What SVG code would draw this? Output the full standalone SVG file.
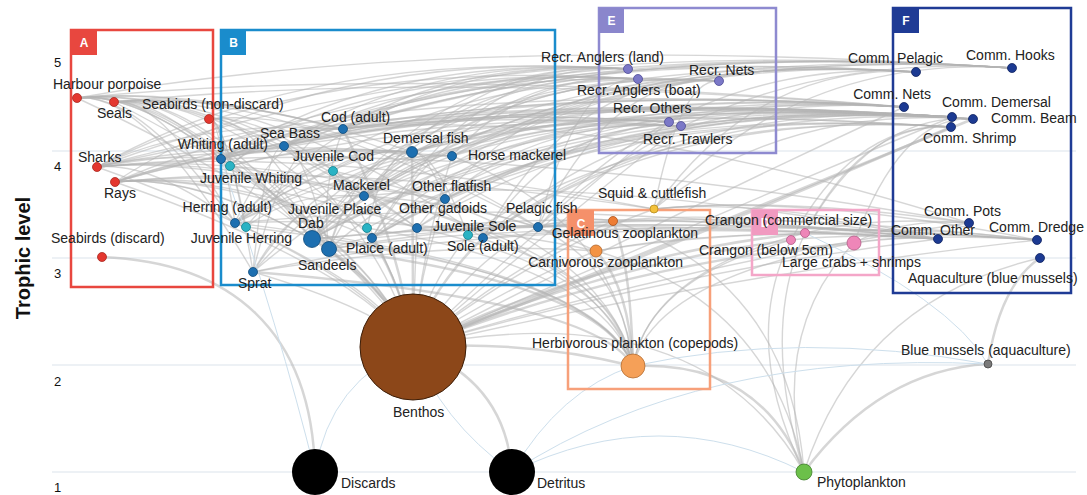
<svg xmlns="http://www.w3.org/2000/svg" width="1087" height="495" viewBox="0 0 1087 495">
<style>
text{font-family:"Liberation Sans",Arial,sans-serif;font-size:14px;fill:#222}
.e{fill:none;stroke:#b4b4b4;stroke-opacity:.55;stroke-width:1.4}
.w{stroke-width:2.5}
.lb{fill:none;stroke:#cddfec;stroke-width:1}
.grid{stroke:#e7edf2;stroke-width:1.3}
.box{fill:none;stroke-width:2.5}
.tab{font-size:12px;font-weight:bold;fill:#fff;text-anchor:middle}
.tick{font-size:13px;fill:#111}
.end{text-anchor:end}
.nA{fill:#e4372f;stroke:#a82820;stroke-width:.8}
.nB{fill:#1d6fb0;stroke:#0f4a7a;stroke-width:.8}
.nJ{fill:#2ab3c4;stroke:#15808d;stroke-width:.8}
.nD{fill:#ee86b8;stroke:#b35b86;stroke-width:.8}
.nE{fill:#7b78c7;stroke:#4d4a94;stroke-width:.8}
.nF{fill:#1c3a92;stroke:#0f2260;stroke-width:.8}
</style>
<rect width="1087" height="495" fill="#fff"/>
<g id="grid">
<line class="grid" x1="52" y1="151" x2="1076" y2="151"/>
<line class="grid" x1="52" y1="258" x2="1076" y2="258"/>
<line class="grid" x1="52" y1="365" x2="1076" y2="365"/>
<line class="grid" x1="52" y1="472" x2="1076" y2="472"/>
<text class="tick" x="54" y="67">5</text>
<text class="tick" x="54" y="171">4</text>
<text class="tick" x="54" y="278">3</text>
<text class="tick" x="54" y="386">2</text>
<text class="tick" x="54" y="492">1</text>
<text transform="translate(30,258) rotate(-90)" text-anchor="middle" style="font-size:20px;font-weight:bold;fill:#111">Trophic level</text>
</g>
<g id="connectors">
<path class="e" d="M77,98 Q451,31 1012,68"/>
<path class="e" d="M97,167 Q463,31 1012,68"/>
<path class="e" d="M343,129 Q611,41 1012,68"/>
<path class="e" d="M412,152 Q652,44 1012,68"/>
<path class="e" d="M452,156 Q676,46 1012,68"/>
<path class="e" d="M364,196 Q623,42 1012,68"/>
<path class="e" d="M284,146 Q575,39 1012,68"/>
<path class="e" d="M221,159 Q537,36 1012,68"/>
<path class="e" d="M654,209 Q797,54 1012,68"/>
<path class="e" d="M538,227 Q728,49 1012,68"/>
<path class="e" d="M115,182 Q474,32 1012,68"/>
<path class="e" d="M235,223 Q507,45 916,72"/>
<path class="e" d="M364,196 Q585,50 916,72"/>
<path class="e" d="M452,156 Q638,53 916,72"/>
<path class="e" d="M538,227 Q689,57 916,72"/>
<path class="e" d="M253,272 Q518,45 916,72"/>
<path class="e" d="M329,249 Q564,49 916,72"/>
<path class="e" d="M343,129 Q572,49 916,72"/>
<path class="e" d="M654,209 Q759,62 916,72"/>
<path class="e" d="M221,159 Q499,44 916,72"/>
<path class="e" d="M343,129 Q567,85 904,107"/>
<path class="e" d="M284,146 Q532,82 904,107"/>
<path class="e" d="M412,152 Q609,87 904,107"/>
<path class="e" d="M483,238 Q651,90 904,107"/>
<path class="e" d="M372,238 Q585,86 904,107"/>
<path class="e" d="M235,223 Q503,80 904,107"/>
<path class="e" d="M77,98 Q408,65 904,107"/>
<path class="e" d="M114,102 Q430,70 904,107"/>
<path class="e" d="M97,167 Q420,75 904,107"/>
<path class="e" d="M115,182 Q431,76 904,107"/>
<path class="e" d="M417,228 Q612,88 904,107"/>
<path class="e" d="M312,239 Q549,83 904,107"/>
<path class="e" d="M343,129 Q587,93 952,117"/>
<path class="e" d="M221,159 Q513,88 952,117"/>
<path class="e" d="M412,152 Q628,95 952,117"/>
<path class="e" d="M445,199 Q648,97 952,117"/>
<path class="e" d="M417,228 Q631,96 952,117"/>
<path class="e" d="M372,238 Q604,94 952,117"/>
<path class="e" d="M312,239 Q568,91 952,117"/>
<path class="e" d="M483,238 Q671,98 952,117"/>
<path class="e" d="M235,223 Q522,88 952,117"/>
<path class="e" d="M364,196 Q599,93 952,117"/>
<path class="e" d="M452,156 Q652,97 952,117"/>
<path class="e" d="M97,167 Q439,83 952,117"/>
<path class="e" d="M115,182 Q450,84 952,117"/>
<path class="e" d="M284,146 Q551,90 952,117"/>
<path class="e" d="M372,238 Q612,95 973,119"/>
<path class="e" d="M483,238 Q679,99 973,119"/>
<path class="e" d="M312,239 Q576,93 973,119"/>
<path class="e" d="M445,199 Q656,98 973,119"/>
<path class="e" d="M805,233 Q872,112 973,119"/>
<path class="e" d="M854,243 Q902,114 973,119"/>
<path class="e" d="M115,182 Q458,85 973,119"/>
<path class="e" d="M412,152 Q636,97 973,119"/>
<path class="e" d="M343,129 Q595,94 973,119"/>
<path class="e" d="M654,209 Q782,106 973,119"/>
<path class="e" d="M221,159 Q522,89 973,119"/>
<path class="e" d="M805,233 Q863,121 951,127"/>
<path class="e" d="M791,240 Q855,121 951,127"/>
<path class="e" d="M312,239 Q568,101 951,127"/>
<path class="e" d="M372,238 Q604,104 951,127"/>
<path class="e" d="M221,159 Q513,98 951,127"/>
<path class="e" d="M230,166 Q518,98 951,127"/>
<path class="e" d="M367,228 Q601,104 951,127"/>
<path class="e" d="M483,238 Q670,108 951,127"/>
<path class="e" d="M468,235 Q661,108 951,127"/>
<path class="e" d="M343,129 Q457,58 628,69"/>
<path class="e" d="M284,146 Q422,55 628,69"/>
<path class="e" d="M364,196 Q470,58 628,69"/>
<path class="e" d="M221,159 Q384,53 628,69"/>
<path class="e" d="M312,239 Q438,56 628,69"/>
<path class="e" d="M372,238 Q474,59 628,69"/>
<path class="e" d="M97,167 Q309,48 628,69"/>
<path class="e" d="M115,182 Q320,48 628,69"/>
<path class="e" d="M235,223 Q392,53 628,69"/>
<path class="e" d="M343,129 Q461,67 638,79"/>
<path class="e" d="M284,146 Q426,65 638,79"/>
<path class="e" d="M364,196 Q474,68 638,79"/>
<path class="e" d="M221,159 Q388,62 638,79"/>
<path class="e" d="M312,239 Q442,66 638,79"/>
<path class="e" d="M372,238 Q478,68 638,79"/>
<path class="e" d="M97,167 Q313,57 638,79"/>
<path class="e" d="M538,227 Q578,75 638,79"/>
<path class="e" d="M452,156 Q526,72 638,79"/>
<path class="e" d="M235,223 Q429,62 719,81"/>
<path class="e" d="M253,272 Q439,62 719,81"/>
<path class="e" d="M364,196 Q506,67 719,81"/>
<path class="e" d="M538,227 Q610,74 719,81"/>
<path class="e" d="M284,146 Q458,64 719,81"/>
<path class="e" d="M417,228 Q538,69 719,81"/>
<path class="e" d="M312,239 Q475,65 719,81"/>
<path class="e" d="M483,238 Q577,72 719,81"/>
<path class="e" d="M654,209 Q680,78 719,81"/>
<path class="e" d="M343,129 Q473,109 669,122"/>
<path class="e" d="M364,196 Q486,110 669,122"/>
<path class="e" d="M312,239 Q455,108 669,122"/>
<path class="e" d="M221,159 Q400,104 669,122"/>
<path class="e" d="M235,223 Q409,105 669,122"/>
<path class="e" d="M312,239 Q460,111 681,126"/>
<path class="e" d="M372,238 Q496,114 681,126"/>
<path class="e" d="M483,238 Q562,118 681,126"/>
<path class="e" d="M343,129 Q478,112 681,126"/>
<path class="e" d="M445,199 Q539,117 681,126"/>
<path class="e" d="M412,152 Q520,115 681,126"/>
<path class="e" d="M805,233 Q871,216 969,223"/>
<path class="e" d="M854,243 Q900,218 969,223"/>
<path class="e" d="M654,209 Q780,196 969,223"/>
<path class="e" d="M343,129 Q593,104 969,223"/>
<path class="e" d="M97,167 Q446,132 969,223"/>
<path class="e" d="M538,227 Q698,211 938,239"/>
<path class="e" d="M654,209 Q768,198 938,239"/>
<path class="e" d="M613,221 Q743,208 938,239"/>
<path class="e" d="M596,251 Q733,225 938,239"/>
<path class="e" d="M329,249 Q573,215 938,239"/>
<path class="e" d="M312,239 Q562,214 938,239"/>
<path class="e" d="M791,240 Q850,233 938,239"/>
<path class="e" d="M854,243 Q888,236 938,239"/>
<path class="e" d="M235,223 Q516,195 938,239"/>
<path class="e" d="M253,272 Q527,212 938,239"/>
<path class="e" d="M364,196 Q594,173 938,239"/>
<path class="e" d="M417,228 Q625,207 938,239"/>
<path class="e" d="M854,243 Q927,233 1037,240"/>
<path class="e" d="M805,233 Q898,224 1037,240"/>
<path class="e" d="M538,227 Q738,207 1037,240"/>
<path class="e" d="M483,238 Q705,216 1037,240"/>
<path class="e" d="M372,238 Q638,211 1037,240"/>
<path class="e" d="M312,239 Q602,210 1037,240"/>
<path class="e" d="M654,209 Q807,194 1037,240"/>
<path class="e" d="M596,251 Q772,222 1037,240"/>
<path class="e" d="M77,98 Q135,92 221,159"/>
<path class="e" d="M77,98 Q140,92 235,223"/>
<path class="e" d="M77,98 Q178,88 329,249"/>
<path class="e" d="M77,98 Q147,91 253,272"/>
<path class="e" d="M77,98 Q183,87 343,129"/>
<path class="e" d="M77,98 Q192,87 364,196"/>
<path class="e" d="M77,98 Q171,89 312,239"/>
<path class="e" d="M77,98 Q138,92 230,166"/>
<path class="e" d="M77,98 Q261,80 538,227"/>
<path class="e" d="M77,98 Q213,84 417,228"/>
<path class="e" d="M114,102 Q206,93 343,129"/>
<path class="e" d="M114,102 Q157,98 221,159"/>
<path class="e" d="M114,102 Q193,94 312,239"/>
<path class="e" d="M114,102 Q217,92 372,238"/>
<path class="e" d="M114,102 Q200,93 329,249"/>
<path class="e" d="M114,102 Q262,87 483,238"/>
<path class="e" d="M114,102 Q235,90 417,228"/>
<path class="e" d="M114,102 Q233,90 412,152"/>
<path class="e" d="M114,102 Q162,97 235,223"/>
<path class="e" d="M209,119 Q257,114 329,249"/>
<path class="e" d="M209,119 Q227,117 253,272"/>
<path class="e" d="M209,119 Q219,118 235,223"/>
<path class="e" d="M209,119 Q224,118 246,227"/>
<path class="e" d="M209,119 Q271,113 364,196"/>
<path class="e" d="M209,119 Q217,118 230,166"/>
<path class="e" d="M209,119 Q341,106 538,227"/>
<path class="e" d="M97,167 Q204,156 364,196"/>
<path class="e" d="M97,167 Q152,161 235,223"/>
<path class="e" d="M97,167 Q223,139 412,152"/>
<path class="e" d="M97,167 Q195,119 343,129"/>
<path class="e" d="M97,167 Q273,149 538,227"/>
<path class="e" d="M97,167 Q147,154 221,159"/>
<path class="e" d="M97,167 Q225,154 417,228"/>
<path class="e" d="M97,167 Q320,145 654,209"/>
<path class="e" d="M97,167 Q239,142 452,156"/>
<path class="e" d="M115,182 Q194,174 312,239"/>
<path class="e" d="M115,182 Q201,173 329,249"/>
<path class="e" d="M115,182 Q247,169 445,199"/>
<path class="e" d="M115,182 Q234,140 412,152"/>
<path class="e" d="M115,182 Q331,160 654,209"/>
<path class="e" d="M115,182 Q216,172 367,228"/>
<path class="e" d="M115,182 Q218,172 372,238"/>
<path class="e" d="M115,182 Q236,170 417,228"/>
<path class="e" d="M230,166 Q275,124 343,129"/>
<path class="e" d="M329,249 Q320,190 343,129"/>
<path class="e" d="M253,272 Q289,125 343,129"/>
<path class="e" d="M235,223 Q278,125 343,129"/>
<path class="e" d="M246,227 Q312,145 412,152"/>
<path class="e" d="M329,249 Q343,195 364,196"/>
<path class="e" d="M367,228 Q385,150 412,152"/>
<path class="e" d="M412,152 Q434,150 468,235"/>
<path class="e" d="M253,272 Q333,148 452,156"/>
<path class="e" d="M221,159 Q264,155 329,249"/>
<path class="e" d="M333,171 Q365,149 412,152"/>
<path class="e" d="M329,249 Q413,219 538,227"/>
<path class="e" d="M253,272 Q297,192 364,196"/>
<path class="e" d="M246,227 Q293,191 364,196"/>
<path class="e" d="M412,152 Q425,150 445,199"/>
<path class="e" d="M329,249 Q362,149 412,152"/>
<path class="e" d="M329,249 Q378,151 452,156"/>
<path class="e" d="M284,146 Q302,144 329,249"/>
<path class="e" d="M253,272 Q265,145 284,146"/>
<path class="e" d="M230,166 Q252,144 284,146"/>
<path class="e" d="M230,166 Q303,145 412,152"/>
<path class="e" d="M235,223 Q306,145 412,152"/>
<path class="e" d="M538,227 Q580,215 613,221"/>
<path class="e" d="M364,196 Q500,205 596,251"/>
<path class="e" d="M235,223 Q430,215 596,251"/>
<path class="e" d="M253,272 Q440,240 596,251"/>
<path class="e" d="M329,249 Q470,225 613,221"/>
<path class="e w" d="M329,249 Q603,284 633,366"/>
<path class="e w" d="M253,272 Q595,300 633,366"/>
<path class="e" d="M235,223 Q593,266 633,366"/>
<path class="e" d="M246,227 Q594,269 633,366"/>
<path class="e" d="M364,196 Q606,247 633,366"/>
<path class="e" d="M538,227 Q624,269 633,366"/>
<path class="e w" d="M613,221 Q631,265 633,366"/>
<path class="e w" d="M596,251 Q629,286 633,366"/>
<path class="e" d="M230,166 Q593,226 633,366"/>
<path class="e" d="M333,171 Q603,230 633,366"/>
<path class="e" d="M367,228 Q606,269 633,366"/>
<path class="e" d="M468,235 Q616,274 633,366"/>
<path class="e" d="M312,239 Q601,277 633,366"/>
<path class="e" d="M417,228 Q611,269 633,366"/>
<path class="e" d="M452,156 Q615,219 633,366"/>
<path class="e" d="M791,240 Q649,278 633,366"/>
<path class="e" d="M805,233 Q650,273 633,366"/>
<path class="e" d="M854,243 Q655,280 633,366"/>
<path class="e w" d="M413,347 Q530,340 633,366"/>
<path class="e w" d="M343,129 Q399,238 413,347"/>
<path class="e w" d="M412,152 Q413,250 413,347"/>
<path class="e w" d="M312,239 Q393,293 413,347"/>
<path class="e w" d="M372,238 Q405,293 413,347"/>
<path class="e w" d="M483,238 Q427,293 413,347"/>
<path class="e" d="M445,199 Q419,273 413,347"/>
<path class="e" d="M417,228 Q414,288 413,347"/>
<path class="e w" d="M329,249 Q396,298 413,347"/>
<path class="e" d="M221,159 Q375,253 413,347"/>
<path class="e" d="M230,166 Q376,257 413,347"/>
<path class="e" d="M333,171 Q397,259 413,347"/>
<path class="e" d="M367,228 Q404,288 413,347"/>
<path class="e" d="M468,235 Q424,291 413,347"/>
<path class="e" d="M452,156 Q421,252 413,347"/>
<path class="e" d="M115,182 Q353,265 413,347"/>
<path class="e" d="M97,167 Q350,257 413,347"/>
<path class="e" d="M284,146 Q387,247 413,347"/>
<path class="e" d="M114,102 Q353,225 413,347"/>
<path class="e" d="M77,98 Q346,223 413,347"/>
<path class="e" d="M253,272 Q381,310 413,347"/>
<path class="e" d="M235,223 Q377,285 413,347"/>
<path class="e" d="M654,209 Q540,250 413,347"/>
<path class="e" d="M613,221 Q520,260 413,347"/>
<path class="e" d="M596,251 Q510,285 413,347"/>
<path class="e w" d="M805,233 Q600,255 413,347"/>
<path class="e w" d="M791,240 Q600,265 413,347"/>
<path class="e w" d="M854,243 Q630,262 413,347"/>
<path class="e w" d="M973,119 Q700,230 413,347"/>
<path class="e w" d="M951,127 Q690,240 413,347"/>
<path class="e" d="M952,117 Q690,225 413,347"/>
<path class="e" d="M938,239 Q680,270 413,347"/>
<path class="e" d="M1037,240 Q720,275 413,347"/>
<path class="e" d="M681,126 Q560,220 413,347"/>
<path class="e" d="M669,122 Q550,215 413,347"/>
<path class="e" d="M904,107 Q660,220 413,347"/>
<path class="e" d="M969,223 Q700,260 413,347"/>
<path class="e" d="M538,227 Q470,260 413,347"/>
<path class="e w" d="M633,366 Q760,360 804,472"/>
<path class="e" d="M413,347 Q700,290 804,472"/>
<path class="e" d="M596,251 Q770,300 804,472"/>
<path class="e" d="M613,221 Q790,280 804,472"/>
<path class="e" d="M791,240 Q740,340 804,472"/>
<path class="e" d="M854,243 Q770,330 804,472"/>
<path class="e" d="M805,233 Q760,330 804,472"/>
<path class="e w" d="M804,472 Q880,370 988,364"/>
<path class="e" d="M804,472 Q860,300 1040,258"/>
<path class="e w" d="M988,364 Q1000,285 1040,258"/>
<path class="e w" d="M413,347 Q505,380 512,472"/>
<path class="e w" d="M102,257 C230,262 312,330 315,472"/>
<path class="lb" d="M512,472 Q560,390 633,366"/>
<path class="lb" d="M512,472 Q700,350 988,364"/>
<path class="lb" d="M512,472 Q440,420 413,347"/>
<path class="lb" d="M315,472 Q330,380 413,347"/>
<path class="lb" d="M315,472 Q280,330 221,159"/>
<path class="lb" d="M512,472 Q660,400 804,472"/>
<path class="lb" d="M633,366 Q800,330 988,364"/>
<path class="lb" d="M988,364 Q950,300 805,233"/>
</g>
<g id="groups">
<rect class="box" x="71" y="30" width="142" height="257" stroke="#e8473f"/>
<rect x="71" y="30" width="26" height="25" fill="#e8473f"/><text class="tab" x="84" y="47">A</text>
<rect class="box" x="221" y="30" width="334" height="255" stroke="#1a8ccc"/>
<rect x="221" y="30" width="25" height="25" fill="#1a8ccc"/><text class="tab" x="233.5" y="47">B</text>
<rect class="box" x="568" y="210" width="142" height="179" stroke="#f7a07a"/>
<rect x="568" y="210" width="26" height="26" fill="#f5906a"/><text class="tab" x="581" y="228">C</text>
<rect class="box" x="752" y="210" width="127" height="65" stroke="#f4a6c8"/>
<rect x="752" y="210" width="26" height="25" fill="#f19ac0"/><text class="tab" x="765" y="227">D</text>
<rect class="box" x="599" y="8" width="177" height="145" stroke="#8e8ad0"/>
<rect x="599" y="8" width="25" height="25" fill="#8a86cc"/><text class="tab" x="611.5" y="25">E</text>
<rect class="box" x="893" y="8" width="178" height="285" stroke="#1f3b95"/>
<rect x="893" y="8" width="26" height="25" fill="#1f3b95"/><text class="tab" x="906" y="25">F</text>
</g>
<g id="n-harbour-porpoise"><circle class="nA" cx="77" cy="98" r="4.5"/><text x="53" y="89">Harbour porpoise</text></g>
<g id="n-seals"><circle class="nA" cx="114" cy="102" r="4.5"/><text x="97" y="118">Seals</text></g>
<g id="n-seabirds-non-discard"><circle class="nA" cx="209" cy="119" r="4.5"/><text x="142" y="109">Seabirds (non-discard)</text></g>
<g id="n-sharks"><circle class="nA" cx="97" cy="167" r="4.5"/><text x="78" y="162">Sharks</text></g>
<g id="n-rays"><circle class="nA" cx="115" cy="182" r="4.5"/><text x="104" y="198">Rays</text></g>
<g id="n-seabirds-discard"><circle class="nA" cx="102" cy="257" r="4.5"/><text x="51" y="243">Seabirds (discard)</text></g>
<g id="n-whiting-adult"><circle class="nB" cx="221" cy="159" r="4.5"/><text class="end" x="268" y="149">Whiting (adult)</text></g>
<g id="n-juvenile-whiting"><circle class="nJ" cx="230" cy="166" r="4.5"/><text class="end" x="302" y="183">Juvenile Whiting</text></g>
<g id="n-sea-bass"><circle class="nB" cx="284" cy="146" r="4.5"/><text x="260" y="138">Sea Bass</text></g>
<g id="n-cod-adult"><circle class="nB" cx="343" cy="129" r="4.5"/><text x="321" y="122">Cod (adult)</text></g>
<g id="n-juvenile-cod"><circle class="nJ" cx="333" cy="171" r="4.5"/><text x="293" y="161">Juvenile Cod</text></g>
<g id="n-demersal-fish"><circle class="nB" cx="412" cy="152" r="5.5"/><text x="383" y="143">Demersal fish</text></g>
<g id="n-horse-mackerel"><circle class="nB" cx="452" cy="156" r="4.5"/><text x="468" y="160">Horse mackerel</text></g>
<g id="n-mackerel"><circle class="nB" cx="364" cy="196" r="4.5"/><text x="333" y="190">Mackerel</text></g>
<g id="n-other-flatfish"><circle class="nB" cx="445" cy="199" r="4.5"/><text x="412" y="191">Other flatfish</text></g>
<g id="n-herring-adult"><circle class="nB" cx="235" cy="223" r="4.5"/><text class="end" x="272" y="212">Herring (adult)</text></g>
<g id="n-juvenile-herring"><circle class="nJ" cx="246" cy="227" r="4.5"/><text class="end" x="292" y="243">Juvenile Herring</text></g>
<g id="n-juvenile-plaice"><circle class="nJ" cx="367" cy="228" r="4.5"/><text x="288" y="214">Juvenile Plaice</text></g>
<g id="n-other-gadoids"><circle class="nB" cx="417" cy="228" r="4.5"/><text x="399" y="213">Other gadoids</text></g>
<g id="n-pelagic-fish"><circle class="nB" cx="538" cy="227" r="4.5"/><text x="506" y="213">Pelagic fish</text></g>
<g id="n-dab"><circle class="nB" cx="312" cy="239" r="8.5"/><text x="298" y="228">Dab</text></g>
<g id="n-juvenile-sole"><circle class="nJ" cx="468" cy="235" r="4.5"/><text x="433" y="231">Juvenile Sole</text></g>
<g id="n-sole-adult"><circle class="nB" cx="483" cy="238" r="4.5"/><text x="447" y="251">Sole (adult)</text></g>
<g id="n-plaice-adult"><circle class="nB" cx="372" cy="238" r="4.5"/><text x="346" y="253">Plaice (adult)</text></g>
<g id="n-sandeels"><circle class="nB" cx="329" cy="249" r="7.5"/><text x="298" y="270">Sandeels</text></g>
<g id="n-sprat"><circle class="nB" cx="253" cy="272" r="4.5"/><text x="238" y="288">Sprat</text></g>
<g id="n-squid"><circle cx="654" cy="209" r="4" fill="#f3c13a" stroke="#b58a1c" stroke-width=".8"/><text x="598" y="198">Squid &amp; cuttlefish</text></g>
<g id="n-gelatinous-zooplankton"><circle cx="613" cy="221" r="4.5" fill="#ee7d34" stroke="#a9521b" stroke-width=".8"/><text class="end" x="698" y="238">Gelatinous zooplankton</text></g>
<g id="n-carnivorous-zooplankton"><circle cx="596" cy="251" r="6" fill="#f39344" stroke="#b0652a" stroke-width=".8"/><text class="end" x="683" y="267">Carnivorous zooplankton</text></g>
<g id="n-herbivorous-plankton"><circle cx="633" cy="366" r="12" fill="#f5a058" stroke="#b36d34" stroke-width=".8"/><text x="532" y="348">Herbivorous plankton (copepods)</text></g>
<g id="n-crangon-commercial"><circle class="nD" cx="805" cy="233" r="4.5"/><text x="705" y="225">Crangon (commercial size)</text></g>
<g id="n-crangon-below"><circle class="nD" cx="791" cy="240" r="4.5"/><text x="699" y="255">Crangon (below 5cm)</text></g>
<g id="n-large-crabs"><circle class="nD" cx="854" cy="243" r="7"/><text x="782" y="267">Large crabs + shrimps</text></g>
<g id="n-recr-anglers-land"><circle class="nE" cx="628" cy="69" r="4.5"/><text class="end" x="664" y="62">Recr. Anglers (land)</text></g>
<g id="n-recr-anglers-boat"><circle class="nE" cx="638" cy="79" r="4.5"/><text x="577" y="95">Recr. Anglers (boat)</text></g>
<g id="n-recr-nets"><circle class="nE" cx="719" cy="81" r="4.5"/><text x="689" y="75">Recr. Nets</text></g>
<g id="n-recr-others"><circle class="nE" cx="669" cy="122" r="4.5"/><text x="613" y="113">Recr. Others</text></g>
<g id="n-recr-trawlers"><circle class="nE" cx="681" cy="126" r="4.5"/><text x="643" y="144">Recr. Trawlers</text></g>
<g id="n-comm-pelagic"><circle class="nF" cx="916" cy="72" r="4.5"/><text class="end" x="943" y="63">Comm. Pelagic</text></g>
<g id="n-comm-hooks"><circle class="nF" cx="1012" cy="68" r="4.5"/><text x="966" y="60">Comm. Hooks</text></g>
<g id="n-comm-nets"><circle class="nF" cx="904" cy="107" r="4.5"/><text class="end" x="931" y="99">Comm. Nets</text></g>
<g id="n-comm-demersal"><circle class="nF" cx="952" cy="117" r="4.5"/><text x="942" y="107">Comm. Demersal</text></g>
<g id="n-comm-beam"><circle class="nF" cx="973" cy="119" r="4.5"/><text x="991" y="123">Comm. Beam</text></g>
<g id="n-comm-shrimp"><circle class="nF" cx="951" cy="127" r="4.5"/><text x="923" y="143">Comm. Shrimp</text></g>
<g id="n-comm-pots"><circle class="nF" cx="969" cy="223" r="4.5"/><text x="924" y="216">Comm. Pots</text></g>
<g id="n-comm-other"><circle class="nF" cx="938" cy="239" r="4.5"/><text x="891" y="235">Comm. Other</text></g>
<g id="n-comm-dredge"><circle class="nF" cx="1037" cy="240" r="4.5"/><text x="989" y="232">Comm. Dredge</text></g>
<g id="n-aquaculture"><circle class="nF" cx="1040" cy="258" r="4.5"/><text x="908" y="283">Aquaculture (blue mussels)</text></g>
<g id="n-benthos"><circle cx="413" cy="347" r="53" fill="#8c4719" stroke="#3c1e08" stroke-width="1"/><text x="393" y="417">Benthos</text></g>
<g id="n-discards"><circle cx="315" cy="472" r="23" fill="#000"/><text x="341" y="488">Discards</text></g>
<g id="n-detritus"><circle cx="512" cy="472" r="23" fill="#000"/><text x="537" y="488">Detritus</text></g>
<g id="n-phytoplankton"><circle cx="804" cy="472" r="8" fill="#6cc04a" stroke="#3f7f2a" stroke-width=".8"/><text x="817" y="487">Phytoplankton</text></g>
<g id="n-blue-mussels"><circle cx="988" cy="364" r="4" fill="#7a7a7a" stroke="#444" stroke-width=".8"/><text x="901" y="355">Blue mussels (aquaculture)</text></g>
</svg>
